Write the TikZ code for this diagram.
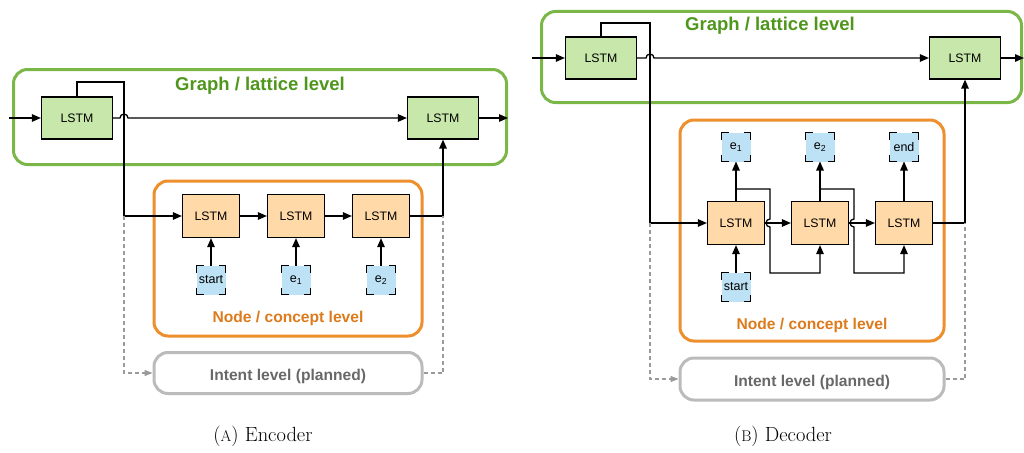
\documentclass[tikz,border=0pt]{standalone}
\usepackage{fontspec}
\setsansfont{Liberation Sans}
\usepackage{tikz}
\usetikzlibrary{calc,arrows.meta}

\definecolor{grnline}{HTML}{7AB648}
\definecolor{grntxt}{HTML}{4E961C}
\definecolor{grnfill}{HTML}{C8E7AA}
\definecolor{orgline}{HTML}{EE8F2D}
\definecolor{orgtxt}{HTML}{DC7A1C}
\definecolor{orgfill}{HTML}{FFD9A8}
\definecolor{tokfill}{HTML}{BEE2F5}
\definecolor{gryline}{HTML}{BBBBBB}
\definecolor{grytxt}{HTML}{686868}
\definecolor{grydash}{HTML}{9A9A9A}

\newcommand{\lstmfont}{\sffamily\fontsize{12.3}{14}\selectfont}
\newcommand{\tokfont}{\sffamily\fontsize{12.5}{14}\selectfont}
\newcommand{\levelfont}{\sffamily\bfseries\fontsize{15.6}{18}\selectfont}
\newcommand{\capfont}{\fontsize{20.5}{24}\selectfont}
\newcommand{\smallcap}[1]{{\fontsize{15.5}{18}\selectfont #1}}

\begin{document}
\begin{tikzpicture}[x=1pt,y=-1pt,
   level/.style={rectangle,rounded corners=14pt,line width=3pt},
   lstmg/.style={rectangle,draw,fill=grnfill,line width=1.2pt,
    minimum width=71,minimum height=42,font=\lstmfont},
   lstmo/.style={rectangle,draw,fill=orgfill,line width=1.2pt,
    minimum width=57,minimum height=43,font=\lstmfont},
   tok/.style={rectangle,draw,fill=tokfill,line width=1.2pt,inner sep=0pt,
    outer sep=0pt,minimum size=29,dash pattern=on 14pt off 15pt,
    dash phase=7pt,font=\tokfont},
   arr/.style={line width=1.3pt,-{Triangle[length=9pt,width=7.5pt]}},
   hint/.style={grydash,line width=1.2pt,dash pattern=on 4pt off 3pt},
   leveltext/.style={font=\levelfont}
    ]
  \useasboundingbox (0,0) rectangle (1024,452);

  % -- (A) encoder: levels
  \node[level,draw=grnline,minimum width=493,minimum height=95] (gA) at (260,117) {};
  \node[leveltext,text=grntxt,font=\sffamily\bfseries\fontsize{18.5}{20}\selectfont] (gAt) at (260,86) {Graph / lattice level};
  \node[level,draw=orgline,minimum width=268,minimum height=155] (nA) at (288,258.5) {};
  \node[leveltext,text=orgtxt] (nAt) at (288,318) {Node / concept level};
  \node[level,draw=gryline,minimum width=268,minimum height=41] (iA) at (288,373) {};
  \node[leveltext,text=grytxt] (iAt) at (288,376) {Intent level (planned)};

  % -- (A) encoder: cells
  \node[lstmg] at (77,118) (ga1) {LSTM};
  \node[lstmg] at (443,118) (ga2) {LSTM};
  \node[lstmo] at (211,216) (oa1) {LSTM};
  \node[lstmo] at (296,216) (oa2) {LSTM};
  \node[lstmo] at (381,216) (oa3) {LSTM};
  \node[tok] at (211,280) (ta1) {start};
  \node[tok] at (296,280) (ta2) {e\textsubscript{1}};
  \node[tok] at (381,280) (ta3) {e\textsubscript{2}};

  \coordinate (inA) at (9,118);
  \coordinate (outA) at (508,118);
  \coordinate (loopA) at (124,82);
  \coordinate (hopA) at (124,118);

  % -- (A) encoder: connectors
  \draw[arr] (inA) -- (ga1.west);
  \draw[arr] (ga1.east) -- ($(hopA)+(-4,0)$) arc (180:360:4) -- (ga2.west);
  \draw[arr] (ga2.east) -- (outA);
  \draw[arr] (ga1.north) |- (loopA) -- (loopA |- oa1.west) -- (oa1.west);
  \draw[arr] (oa1.east) -- (oa2.west);
  \draw[arr] (oa2.east) -- (oa3.west);
  \draw[arr] (oa3.east) -| (ga2.south);
  \draw[arr] (ta1.north) -- (oa1.south);
  \draw[arr] (ta2.north) -- (oa2.south);
  \draw[arr] (ta3.north) -- (oa3.south);
  \draw[hint,-{Triangle[length=8pt,width=6pt]}] (loopA |- oa1.west) -- (loopA |- iA.west) -- (iA.west);
  \draw[hint] (iA.east) -| (ga2.south |- oa3.east);

  % -- (B) decoder: levels
  \node[level,draw=grnline,minimum width=480,minimum height=91] (gB) at (781.5,57) {};
  \node[leveltext,text=grntxt,font=\sffamily\bfseries\fontsize{18.5}{20}\selectfont] (gBt) at (770,26) {Graph / lattice level};
  \node[level,draw=orgline,minimum width=264,minimum height=221] (nB) at (812,230.5) {};
  \node[leveltext,text=orgtxt] (nBt) at (812,325) {Node / concept level};
  \node[level,draw=gryline,minimum width=264,minimum height=42] (iB) at (812,379) {};
  \node[leveltext,text=grytxt] (iBt) at (812,382) {Intent level (planned)};

  % -- (B) decoder: cells
  \node[lstmg] at (601,58) (gb1) {LSTM};
  \node[lstmg] at (965,58) (gb2) {LSTM};
  \node[lstmo] at (736,223) (ob1) {LSTM};
  \node[lstmo] at (820,223) (ob2) {LSTM};
  \node[lstmo] at (904,223) (ob3) {LSTM};
  \node[tok] at (736,147) (tb1) {e\textsubscript{1}};
  \node[tok] at (820,147) (tb2) {e\textsubscript{2}};
  \node[tok] at (904,147) (tb3) {end};
  \node[tok] at (736,287) (sb) {start};

  \coordinate (inB) at (532,58);
  \coordinate (outB) at (1024,58);
  \coordinate (loopB) at (650,23);
  \coordinate (hopB) at (650,58);
  \coordinate (fb1) at (736,189);
  \coordinate (fb2) at (820,189);
  \coordinate (hop1) at (770,223);
  \coordinate (hop2) at (854,223);

  % -- (B) decoder: connectors
  \draw[arr] (inB) -- (gb1.west);
  \draw[arr] (gb1.east) -- ($(hopB)+(-4,0)$) arc (180:360:4) -- (gb2.west);
  \draw[arr] (gb2.east) -- (outB);
  \draw[arr] (gb1.north) |- (loopB) -- (loopB |- ob1.west) -- (ob1.west);
  \draw[arr] (ob1.east) -- (ob2.west);
  \draw[arr] (ob2.east) -- (ob3.west);
  \draw[arr] (ob3.east) -| (gb2.south);
  \draw[arr] (ob1.north) -- (tb1.south);
  \draw[arr] (ob2.north) -- (tb2.south);
  \draw[arr] (ob3.north) -- (tb3.south);
  \draw[arr] (sb.north) -- (ob1.south);
  \draw[arr] (fb1) -| ($(hop1)+(0,-4)$) arc (270:90:4) -- ($(hop1)+(0,50)$) -| (ob2.south);
  \draw[arr] (fb2) -| ($(hop2)+(0,-4)$) arc (270:90:4) -- ($(hop2)+(0,50)$) -| (ob3.south);
  \draw[hint,-{Triangle[length=8pt,width=6pt]}] (loopB |- ob1.west) -- (loopB |- iB.west) -- (iB.west);
  \draw[hint] (iB.east) -| (gb2.south |- ob3.east);

  % -- captions
  \node[font=\capfont] (capA) at (263,436) {(\smallcap{A}) Encoder};
  \node[font=\capfont] (capB) at (783,436) {(\smallcap{B}) Decoder};

\end{tikzpicture}
\end{document}
